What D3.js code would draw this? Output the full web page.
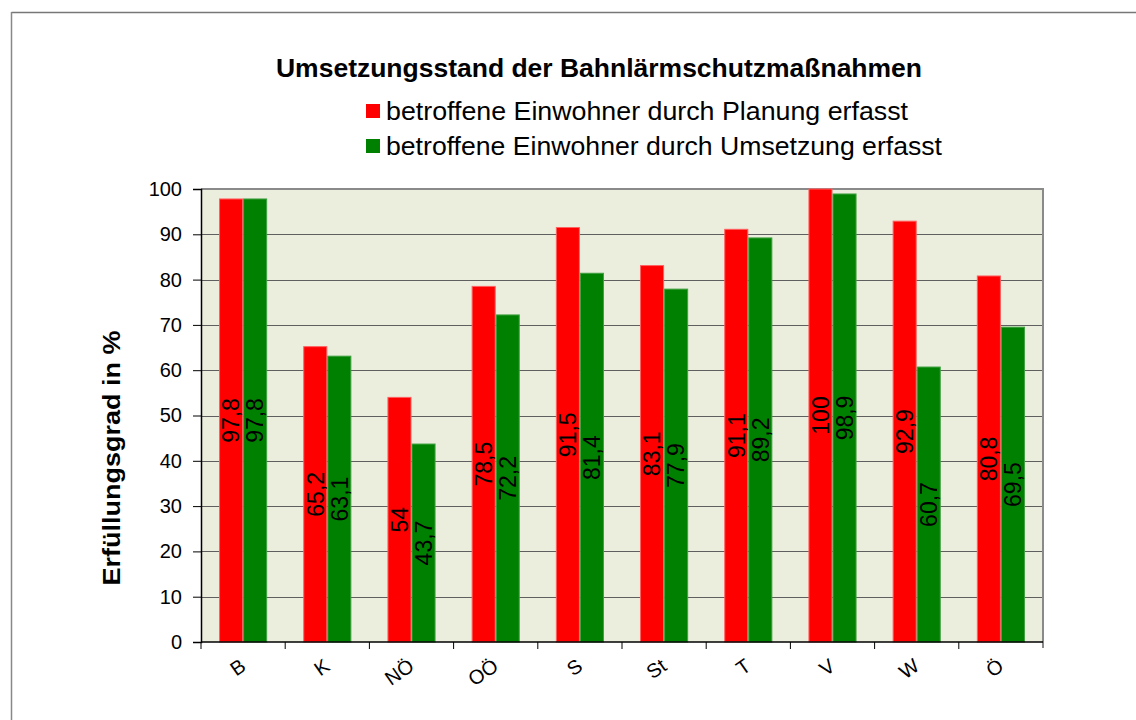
<!DOCTYPE html>
<html><head><meta charset="utf-8">
<script src="https://cdn.jsdelivr.net/npm/d3@7"></script>
<style>body{margin:0;background:#fff;} svg{display:block;}</style>
</head><body>
<script>
const categories = ["B","K","NÖ","OÖ","S","St","T","V","W","Ö"];
const planung = [97.8,65.2,54,78.5,91.5,83.1,91.1,100,92.9,80.8];
const umsetzung = [97.8,63.1,43.7,72.2,81.4,77.9,89.2,98.9,60.7,69.5];
const seriesNames = ["betroffene Einwohner durch Planung erfasst","betroffene Einwohner durch Umsetzung erfasst"];
const yTicks = [0,10,20,30,40,50,60,70,80,90,100];
const titleText = "Umsetzungsstand der Bahnlärmschutzmaßnahmen";
const yLabel = "Erfüllungsgrad in %";

const W = 1136, H = 720;
const font = "'Liberation Sans', Arial, sans-serif";
const svg = d3.select("body").append("svg").attr("width", W).attr("height", H);

// outer frame
svg.append("line").attr("x1",11.5).attr("x2",W).attr("y1",12.5).attr("y2",12.5).attr("stroke","#777").attr("stroke-width",1.5);
svg.append("line").attr("x1",11.5).attr("x2",11.5).attr("y1",12).attr("y2",H).attr("stroke","#888").attr("stroke-width",1.5);

const m = {l:201, r:1043, t:189, b:642};
const x0 = d3.scaleBand().domain(categories).range([m.l, m.r]).paddingInner(0).paddingOuter(0);
const step = x0.bandwidth();
const barW = step / 3.5;
const y = d3.scaleLinear().domain([0,100]).range([m.b, m.t]);

// plot background
svg.append("rect").attr("x",m.l).attr("y",m.t).attr("width",m.r-m.l).attr("height",m.b-m.t).attr("fill","#EBEEDD");

// gridlines
svg.append("g").selectAll("line").data(yTicks.filter(d=>d>0 && d<100)).join("line")
  .attr("x1",m.l).attr("x2",m.r).attr("y1",d=>Math.round(y(d))+0.5).attr("y2",d=>Math.round(y(d))+0.5)
  .attr("stroke","#5f5f5f").attr("stroke-width",1);

// top & right border
svg.append("line").attr("x1",m.l).attr("x2",m.r+1).attr("y1",m.t).attr("y2",m.t).attr("stroke","#8a8a8a").attr("stroke-width",2);
svg.append("line").attr("x1",m.r).attr("x2",m.r).attr("y1",m.t).attr("y2",m.b+6).attr("stroke","#8a8a8a").attr("stroke-width",2);

// bars
const series = [
  {name: seriesNames[0], vals: planung, fill:"#FF0000", stroke:"#FF6060", len:522},
  {name: seriesNames[1], vals: umsetzung, fill:"#008000", stroke:"#40A040", len:556}
];
const x1 = d3.scaleBand().domain([0,1]).range([0, 2*barW]);
series.forEach((s, si) => {
  const g = svg.append("g");
  g.selectAll("rect").data(categories).join("rect")
    .attr("x",(c)=>x0(c) + (step-2*barW)/2 + x1(si) + 0.5)
    .attr("y",(c,i)=>y(s.vals[i]))
    .attr("width", barW-1)
    .attr("height",(c,i)=>y(0)-y(s.vals[i]))
    .attr("fill", s.fill).attr("stroke", s.stroke).attr("stroke-width",1);
  g.selectAll("text").data(categories).join("text")
    .attr("transform",(c,i)=>{
      const cx = x0(c) + (step-2*barW)/2 + x1(si) + barW/2;
      const cy = (y(s.vals[i]) + y(0))/2;
      return `translate(${cx},${cy}) rotate(-90)`;
    })
    .attr("text-anchor","middle").attr("dy","0.36em")
    .attr("font-family",font).attr("font-size",23).attr("fill","#000")
    .text((c,i)=>String(s.vals[i]).replace(".",","));
});

// y axis
const yAxis = d3.axisLeft(y).tickValues(yTicks).tickSize(8).tickPadding(11);
const ya = svg.append("g").attr("transform",`translate(${m.l},0)`).call(yAxis);
ya.select(".domain").attr("stroke","#000").attr("stroke-width",1.5);
ya.selectAll(".tick line").attr("stroke","#000");
ya.selectAll("text").attr("font-family",font).attr("font-size",20).attr("fill","#000");

// x axis line and ticks at boundaries
svg.append("line").attr("x1",m.l).attr("x2",m.r).attr("y1",m.b).attr("y2",m.b).attr("stroke","#000").attr("stroke-width",1.5);
const bounds = categories.map(c=>x0(c)).concat([m.r]);
svg.append("g").selectAll("line").data(bounds.slice(0,-1)).join("line")
  .attr("x1",d=>d).attr("x2",d=>d).attr("y1",m.b).attr("y2",m.b+7).attr("stroke","#000");
svg.append("g").selectAll("text").data(categories).join("text")
  .attr("transform",c=>`translate(${x0(c)+step/2+4},${m.b+27}) rotate(-35)`)
  .attr("text-anchor","end")
  .attr("font-family",font).attr("font-size",20).attr("fill","#000")
  .text(c=>c);

// y label
svg.append("text").attr("transform",`translate(120,458) rotate(-90)`)
  .attr("text-anchor","middle").attr("font-family",font).attr("font-size",24).attr("font-weight","bold")
  .attr("textLength",255).attr("lengthAdjust","spacingAndGlyphs")
  .text(yLabel);

// title
svg.append("text").attr("x",599).attr("y",77).attr("text-anchor","middle")
  .attr("font-family",font).attr("font-size",25).attr("font-weight","bold")
  .attr("textLength",646).attr("lengthAdjust","spacingAndGlyphs").text(titleText);

// legend
const lg = svg.append("g");
series.forEach((s, i) => {
  const yy = 111 + i*35;
  lg.append("rect").attr("x",366).attr("y",yy-7).attr("width",14).attr("height",14).attr("fill",s.fill);
  lg.append("text").attr("x",386).attr("y",yy).attr("dy","0.36em")
    .attr("font-family",font).attr("font-size",25).attr("fill","#000")
    .attr("textLength",s.len).attr("lengthAdjust","spacingAndGlyphs").text(s.name);
});
</script>
</body></html>
